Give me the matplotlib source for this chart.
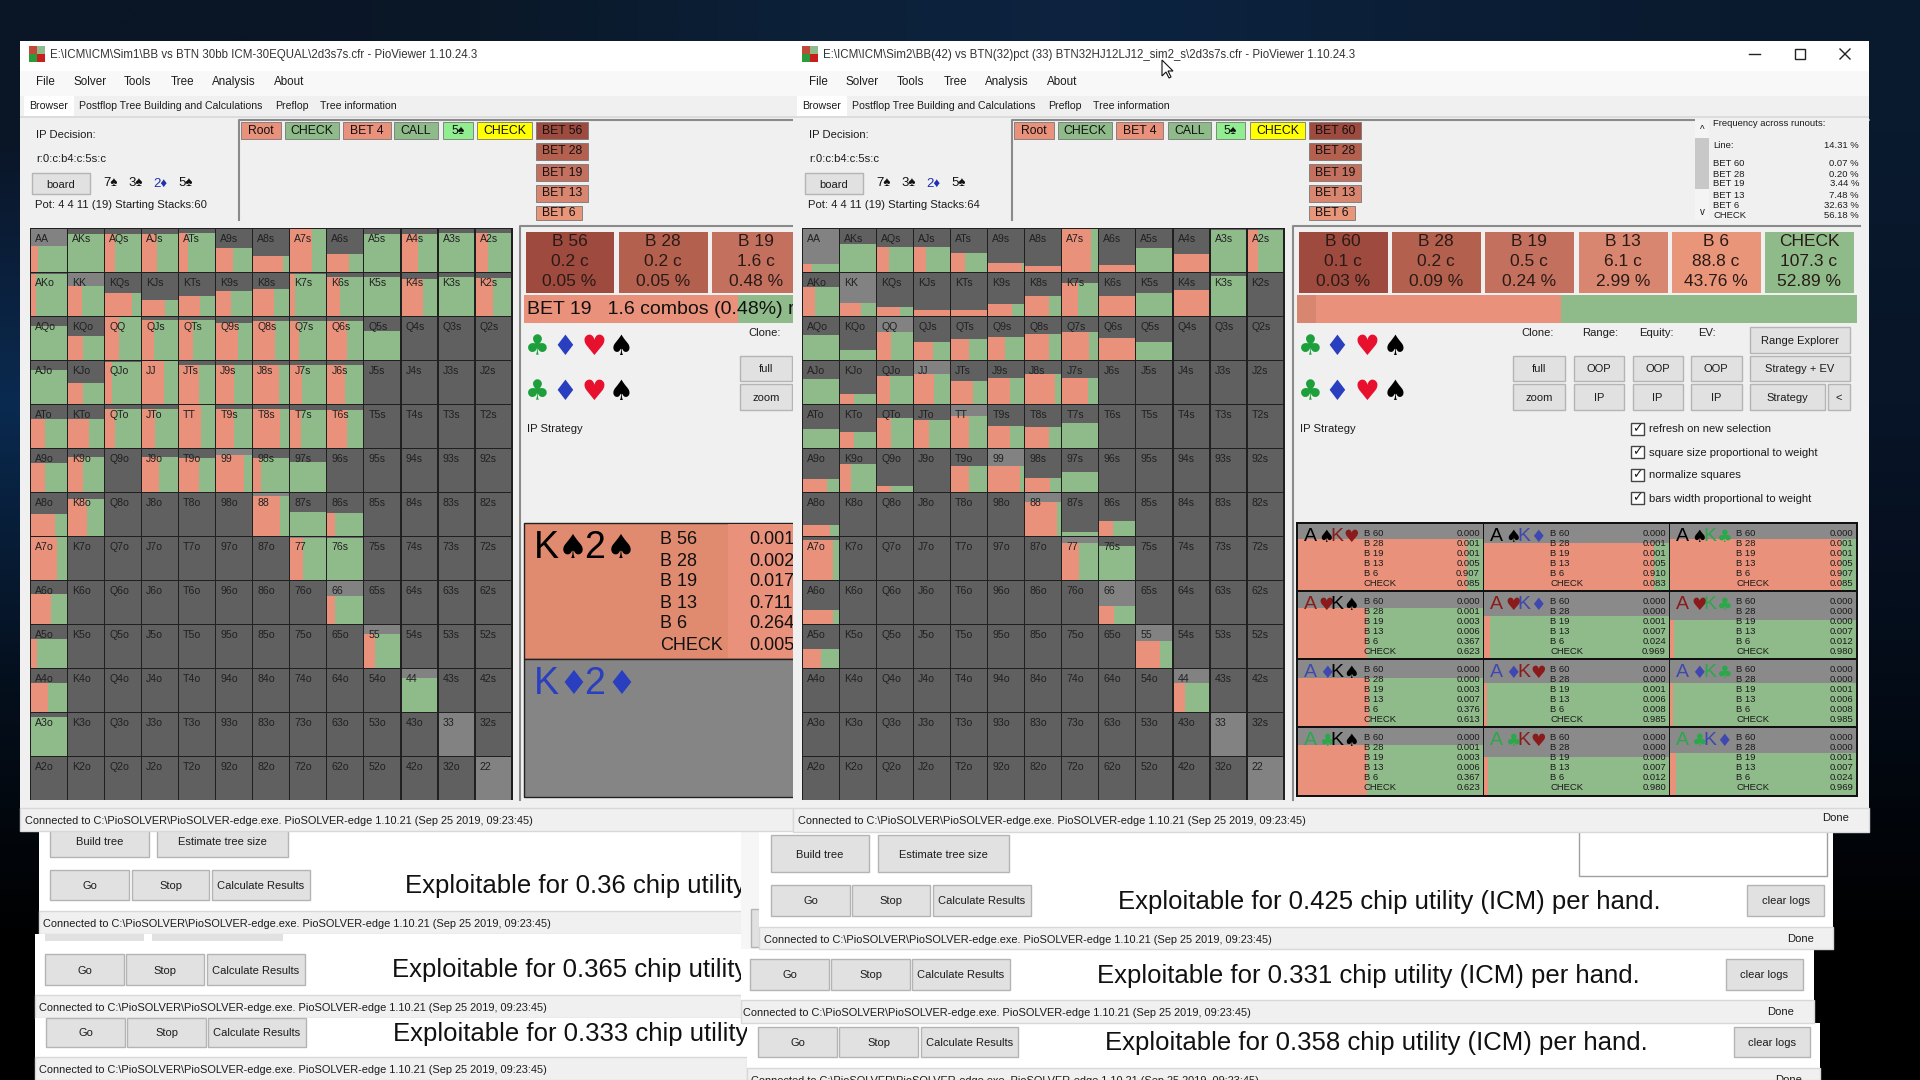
import itertools
import matplotlib
matplotlib.use('Agg')
import matplotlib.pyplot as plt
from matplotlib.patches import Rectangle, Polygon
from matplotlib.colors import to_rgb
import numpy as np

plt.rcParams['font.family'] = ['Liberation Sans', 'DejaVu Sans']

ORANGE = '#e9917a'
GREEN = '#8fbb8a'
DARK = '#606060'
LIGHT = '#828282'
PANEL = '#f0f0f0'
BTN = '#e1e1e1'
INK = '#1c1c1c'

ranks = list('AKQJT98765432')

# share of each hand square that stays grey (top part), 1 = not in range
left_empty = [
    [.39, .11, .11, .12, .10, .44, .64, .00, .59, .11, .11, .10, .10],
    [.03, .31, .48, .64, .54, .42, .37, .02, .10, .10, .15, .10, .12],
    [.20, .45, .00, .06, .08, .15, .10, .10, .10, .33, 1, 1, 1],
    [.20, .52, .03, .00, .10, .10, .10, .10, .10, 1, 1, 1, 1],
    [.34, .34, .10, .10, .00, .10, .10, .12, .12, 1, 1, 1, 1],
    [.34, .19, 1, .19, .20, .14, .20, .30, 1, 1, 1, 1, 1],
    [.49, .15, 1, 1, 1, 1, .06, .45, .48, 1, 1, 1, 1],
    [.00, 1, 1, 1, 1, 1, 1, .03, .03, 1, 1, 1, 1],
    [.31, 1, 1, 1, 1, 1, 1, 1, .36, 1, 1, 1, 1],
    [.32, 1, 1, 1, 1, 1, 1, 1, 1, .22, 1, 1, 1],
    [.32, 1, 1, 1, 1, 1, 1, 1, 1, 1, .20, 1, 1],
    [.10, 1, 1, 1, 1, 1, 1, 1, 1, 1, 1, 1, 1],
    [1, 1, 1, 1, 1, 1, 1, 1, 1, 1, 1, 1, 1],
]
# share of the coloured part that is a bet (orange), the rest is check (green)
left_bet = [
    [.20, .00, .28, .43, .25, .46, .83, .60, .60, .00, .45, .00, .35],
    [.15, .40, .75, .65, .58, .40, .58, .12, .35, .00, .60, .00, .50],
    [.00, .43, .38, .33, .40, .60, .62, .25, .55, .00, 0, 0, 0],
    [.00, .43, .20, .60, .55, .50, .73, .32, .48, 0, 0, 0, 0],
    [.40, .60, .27, .35, .60, .50, .75, .30, .55, 0, 0, 0, 0],
    [.38, .41, 0, .48, .55, .78, .23, .00, 0, 0, 0, 0, 0],
    [.67, .53, 0, 0, 0, 0, .76, .00, .20, 0, 0, 0, 0],
    [.74, 0, 0, 0, 0, 0, 0, .36, .00, 0, 0, 0, 0],
    [.55, 0, 0, 0, 0, 0, 0, 0, .20, 0, 0, 0, 0],
    [.18, 0, 0, 0, 0, 0, 0, 0, 0, .29, 0, 0, 0],
    [.48, 0, 0, 0, 0, 0, 0, 0, 0, 0, .00, 0, 0],
    [.00, 0, 0, 0, 0, 0, 0, 0, 0, 0, 0, 0, 0],
    [0, 0, 0, 0, 0, 0, 0, 0, 0, 0, 0, 0, 0],
]
right_empty = [
    [.82, .36, .42, .42, .57, .80, .88, .00, .84, .45, .59, .02, .02],
    [.33, .70, .80, .86, .86, .73, .55, .23, .55, .46, .41, .06, 1],
    [.43, .77, .36, .58, .52, .46, .41, .35, .50, .58, 1, 1, 1],
    [.43, .77, .36, .30, .47, .41, .30, .39, 1, 1, 1, 1, 1],
    [.57, .63, .30, .36, .25, .49, .51, .42, 1, 1, 1, 1, 1],
    [.70, .36, .87, 1, .40, .40, .67, .55, 1, 1, 1, 1, 1],
    [.74, 1, 1, 1, 1, 1, .20, .92, .65, 1, 1, 1, 1],
    [.06, 1, 1, 1, 1, 1, 1, .15, .22, 1, 1, 1, 1],
    [.67, 1, 1, 1, 1, 1, 1, 1, .58, 1, 1, 1, 1],
    [.56, 1, 1, 1, 1, 1, 1, 1, 1, .38, 1, 1, 1],
    [1, 1, 1, 1, 1, 1, 1, 1, 1, 1, .33, 1, 1],
    [1, 1, 1, 1, 1, 1, 1, 1, 1, 1, 1, 1, 1],
    [1, 1, 1, 1, 1, 1, 1, 1, 1, 1, 1, 1, 1],
]
right_bet = [
    [.26, .00, .33, .33, .39, .95, 1.0, .80, 1.0, .00, 1.0, .00, .29],
    [.34, .60, .64, 1.0, 1.0, .67, .67, .45, 1.0, .00, 1.0, .00, 0],
    [.00, .00, .38, .52, .50, .46, .67, .74, 1.0, .00, 0, 0, 0],
    [.00, .39, .35, .55, .62, .62, .82, .71, 0, 0, 0, 0, 0],
    [.00, .39, .38, .41, .50, .60, .67, .00, 0, 0, 0, 0, 0],
    [.67, .32, .40, 0, .50, .89, .70, .00, 0, 0, 0, 0, 0],
    [.77, 0, 0, 0, 0, 0, .88, .00, .38, 0, 0, 0, 0],
    [.85, 0, 0, 0, 0, 0, 0, .47, .00, 0, 0, 0, 0],
    [.85, 0, 0, 0, 0, 0, 0, 0, .42, 0, 0, 0, 0],
    [.50, 0, 0, 0, 0, 0, 0, 0, 0, .66, 0, 0, 0],
    [0, 0, 0, 0, 0, 0, 0, 0, 0, 0, .32, 0, 0],
    [0, 0, 0, 0, 0, 0, 0, 0, 0, 0, 0, 0, 0],
    [0, 0, 0, 0, 0, 0, 0, 0, 0, 0, 0, 0, 0],
]

# selected hand table of the right window
combo_hands = [('As', 'Kh'), ('As', 'Kd'), ('As', 'Kc'),
               ('Ah', 'Ks'), ('Ah', 'Kd'), ('Ah', 'Kc'),
               ('Ad', 'Ks'), ('Ad', 'Kh'), ('Ad', 'Kc'),
               ('Ac', 'Ks'), ('Ac', 'Kh'), ('Ac', 'Kd')]
combo_empty = [.23, .29, .23, .25, .36, .43, .27, .35, .35, .26, .43, .37]
combo_freqs = [
    [.000, .001, .001, .005, .907, .085],
    [.000, .001, .001, .005, .910, .083],
    [.000, .001, .001, .005, .907, .085],
    [.000, .001, .003, .006, .367, .623],
    [.000, .000, .001, .007, .024, .969],
    [.000, .000, .000, .007, .012, .980],
    [.000, .000, .003, .007, .376, .613],
    [.000, .000, .001, .006, .008, .985],
    [.000, .000, .001, .006, .008, .985],
    [.000, .001, .003, .006, .367, .623],
    [.000, .000, .000, .007, .012, .980],
    [.000, .000, .001, .007, .024, .969],
]
combo_actions = ['B 60', 'B 28', 'B 19', 'B 13', 'B 6', 'CHECK']

left_actions = ['B 56', 'B 28', 'B 19', 'B 13', 'B 6', 'CHECK']
left_box_combos = [0.2, 0.2, 1.6]
left_box_pcts = [0.05, 0.05, 0.48]
left_k2s = [.001, .002, .017, .711, .264, .005]

right_boxes = ['B 60', 'B 28', 'B 19', 'B 13', 'B 6', 'CHECK']
right_box_combos = [0.1, 0.2, 0.5, 6.1, 88.8, 107.3]
right_box_pcts = [0.03, 0.09, 0.24, 2.99, 43.76, 52.89]
box_colors = ['#9e4a3f', '#b4604f', '#c4705f', '#d88670', '#e8957a', '#8fbb8a']

runout_names = ['BET 60', 'BET 28', 'BET 19', 'BET 13', 'BET 6', 'CHECK']
runout_freqs = [0.07, 0.20, 3.44, 7.48, 32.63, 56.18]

fig = plt.figure(figsize=(19.2, 10.8), dpi=100)
ax = fig.add_axes([0, 0, 1, 1])

# wallpaper behind the windows
wall = np.array([[to_rgb(c) for c in row] for row in [
    ['#0a1526', '#0a1828', '#0c2038', '#0c2340', '#0b1e36', '#0a1a2e'],
    ['#0a2a50', '#0a1a30', '#0c2038', '#0c2340', '#0a1c34', '#081428'],
    ['#05101e', '#05101e', '#05101e', '#05101e', '#040c18', '#040c18'],
    ['#000000', '#000000', '#000000', '#000000', '#000000', '#000000'],
]])
ax.imshow(wall, extent=(0, 1920, 1080, 0), aspect='auto', interpolation='bilinear', zorder=0)
ax.set_xlim(0, 1920)
ax.set_ylim(1080, 0)
ax.axis('off')

layer = itertools.count(1)


def box(x0, y0, x1, y1, color, edge='none', lw=1.0):
    ax.add_patch(Rectangle((x0, y0), x1 - x0, y1 - y0, facecolor=color, edgecolor=edge,
                           linewidth=lw, zorder=next(layer)))


def label(x, y, s, size=8.1, color=INK, ha='left', **kw):
    ax.text(x, y + 1, s, fontsize=size, color=color, ha=ha, va='center', zorder=next(layer), **kw)


def button(x0, y0, x1, y1, s, size=8.0):
    box(x0, y0, x1, y1, BTN, edge='#b4b4b4')
    label((x0 + x1) / 2, (y0 + y1) / 2, s, size=size, ha='center')


def lower_window(x0, x1, top, bottom, go, btn_y, text_x, text, status_y, status_x, clear=None, done=None):
    box(x0, top, x1, bottom, '#ffffff')
    button(go[0], btn_y[0], go[1], btn_y[1], 'Go')
    button(go[2], btn_y[0], go[3], btn_y[1], 'Stop')
    button(go[4], btn_y[0], go[5], btn_y[1], 'Calculate Results')
    label(text_x, (btn_y[0] + btn_y[1]) / 2, text, size=18.5, color='#111111')
    if clear:
        button(clear[0], btn_y[0], clear[1], btn_y[1], 'clear logs')
    box(x0, status_y, x1, bottom, PANEL, edge='#d8d8d8')
    label(status_x, status_y + 12, STATUS, size=7.95)
    if done:
        label(done, status_y + 11, 'Done')


STATUS = 'Connected to C:\\PioSOLVER\\PioSOLVER-edge.exe. PioSOLVER-edge 1.10.21 (Sep 25 2019, 09:23:45)'


def hand_grid(x0, y0, empty, bet, cw=37.05, ch=44.0):
    box(x0 - 1, y0 - 1.5, x0 + 13 * cw, y0 + 13 * ch - 1, '#202020')
    for i, r1 in enumerate(ranks):
        for j, r2 in enumerate(ranks):
            x = x0 + j * cw
            y = y0 + i * ch
            e = empty[i][j]
            w = cw - 1.4
            h = ch - 1.4
            box(x, y, x + w, y + h, LIGHT if i == j else DARK)
            if e < 1:
                box(x, y + e * h, x + w, y + h, GREEN)
                if bet[i][j] > 0:
                    box(x, y + e * h, x + bet[i][j] * w, y + h, ORANGE)
            if i == j:
                name = r1 + r2
            elif j > i:
                name = r1 + r2 + 's'
            else:
                name = r2 + r1 + 'o'
            label(x + 4, y + 8.5, name, size=7.6, color='#202020')


def suit_rows(xs, ys=(346, 391)):
    suits = [('♣', '#1da03c'), ('♦', '#2a3fc0'), ('♥', '#e8112d'), ('♠', '#000000')]
    for y in ys:
        for x, (s, c) in zip(xs, suits):
            label(x, y, s, size=20, color=c, ha='center', family=['DejaVu Sans'])


def top_part(x0, x1, title, title_x, tree, name_6, pot):
    box(x0, 41, x1, 831, PANEL)
    box(x0, 41, x1, 71, '#ffffff')
    box(x0, 71, x1, 96, '#f8f8f8')
    # icon
    ix = x0 + 9
    box(ix, 46, ix + 8, 54, '#c04a3a')
    box(ix + 8, 46, ix + 16, 54, '#8fbb8a')
    box(ix, 54, ix + 8, 62, '#2a9a3a')
    box(ix + 8, 54, ix + 16, 62, '#c81e1e')
    label(title_x, 54, title, color='#333333', size=8.3)
    for dx, s in zip((16, 53, 104, 151, 192, 254), ('File', 'Solver', 'Tools', 'Tree', 'Analysis', 'About')):
        label(x0 + dx, 81, s, size=8.4)
    box(x0 + 4, 96, x0 + 54, 116, '#ffffff')
    box(x0, 116, x1, 118, '#dcdcdc')
    for dx, s in zip((9, 59, 255, 300), ('Browser', 'Postflop Tree Building and Calculations', 'Preflop', 'Tree information')):
        label(x0 + dx, 105, s, size=7.6)
    label(x0 + 16, 134.5, 'IP Decision:')
    label(x0 + 16, 157.5, 'r:0:c:b4:c:5s:c')
    button(x0 + 12, 173, x0 + 70, 194, 'board')
    for dx, s, c in zip((83, 108, 133, 158), ('7♠', '3♠', '2♦', '5♠'), ('#111111', '#111111', '#2030b0', '#111111')):
        label(x0 + dx, 182.5, s, size=9.5, color=c)
    label(x0 + 15, 204.5, pot)
    # tree buttons
    bx = x0 + 221
    box(bx - 2, 120, x1, 220, PANEL)
    ax.plot([bx - 2, bx - 2, x1], [220, 120, 120], color='#8a8a8a', lw=1.5, zorder=next(layer))
    tree_colors = [ORANGE, GREEN, ORANGE, GREEN, '#90ee90', '#ffff00', '#9e4a3f']
    for (a, b, s), c in zip(tree, tree_colors):
        box(x0 + a, 122, x0 + b, 139, c, edge='#777777', lw=.6)
        label(x0 + (a + b) / 2, 129.5, s, ha='center', size=8.8, color='#111111')
    a, b = tree[-1][:2]
    for y, s, c in zip((143, 164, 185), ('BET 28', 'BET 19', 'BET 13'), box_colors[1:4]):
        box(x0 + a, y, x0 + b, y + 17, c, edge='#777777', lw=.6)
        label(x0 + (a + b) / 2, y + 7.5, s, ha='center', size=8.8, color='#111111')
    box(x0 + a, 206, x0 + name_6, 220, box_colors[4], edge='#777777', lw=.6)
    label(x0 + (a + name_6) / 2, 212.5, 'BET 6', ha='center', size=8.8, color='#111111')


# lower windows, left group
lower_window(39, 745, 825, 934, (50, 129, 132, 209, 212, 310), (870, 900), 405,
             'Exploitable for 0.36 chip utility', 911, 43)
button(50, 825, 149, 857, 'Build tree')
button(157, 825, 288, 857, 'Estimate tree size')
lower_window(35, 745, 934, 1018, (45, 124, 126, 204, 207, 305), (954, 985), 392,
             'Exploitable for 0.365 chip utility', 995, 39)
box(45, 934, 144, 941, BTN)
box(152, 934, 283, 941, BTN)
lower_window(35, 747, 1018, 1080, (46, 125, 127, 206, 208, 306), (1018, 1047), 393,
             'Exploitable for 0.333 chip utility', 1057, 39)
# lower windows, right group
box(741, 825, 1825, 949, '#f6f6f6')
box(751, 909, 762, 947, BTN, edge='#b4b4b4')
lower_window(747, 1820, 1023, 1080, (758, 837, 839, 918, 921, 1018), (1027, 1057), 1105,
             'Exploitable for 0.358 chip utility (ICM) per hand.', 1068, 751, (1734, 1810), 1775)
lower_window(741, 1814, 949, 1023, (750, 829, 831, 910, 912, 1010), (959, 990), 1097,
             'Exploitable for 0.331 chip utility (ICM) per hand.', 1000, 743, (1726, 1803), 1767)
lower_window(759, 1833, 825, 949, (771, 850, 852, 930, 933, 1031), (885, 916), 1118,
             'Exploitable for 0.425 chip utility (ICM) per hand.', 927, 764, (1747, 1824), 1787)
button(771, 835, 869, 872, 'Build tree')
button(878, 835, 1009, 872, 'Estimate tree size')
box(1579, 825, 1827, 876, '#ffffff', edge='#a0a0a0')

# left main window
top_part(20, 793, 'E:\\ICM\\ICM\\Sim1\\BB vs BTN 30bb ICM-30EQUAL\\2d3s7s.cfr - PioViewer 1.10.24.3', 50,
         [(221, 261, 'Root'), (265, 319, 'CHECK'), (323, 371, 'BET 4'), (374, 418, 'CALL'),
          (423, 453, '5♠'), (457, 512, 'CHECK'), (516, 568, 'BET 56')], 562,
         'Pot: 4 4 11 (19) Starting Stacks:60')
hand_grid(31, 229, left_empty, left_bet)
ax.plot([520, 520, 793], [800, 226, 226], color='#8a8a8a', lw=1.5, zorder=next(layer))
for x0, s, c, n, color in zip((525.5, 619, 712), left_actions, left_box_combos, left_box_pcts, box_colors):
    box(x0, 232, x0 + 88.5, 293, color)
    label(x0 + 44, 241, s, size=12.5, ha='center', color='#2a1a16')
    label(x0 + 44, 261, '%.1f c' % c, size=12.5, ha='center', color='#2a1a16')
    label(x0 + 44, 281, '%.2f %%' % n, size=12.5, ha='center', color='#2a1a16')
box(524, 295, 738, 323, ORANGE)
box(738, 295, 795, 323, GREEN)
label(527, 309, 'BET 19   1.6 combos (0.48%) r', size=14, color='#111111')
suit_rows((537, 565, 594, 621))
label(748, 332.5, 'Clone:')
button(740, 356, 792, 381, 'full')
button(740, 384, 792, 410, 'zoom')
label(527, 427.5, 'IP Strategy')
box(524, 523, 795, 659, '#e08b70', edge='#222222')
box(728, 524, 795, 658, ORANGE)
box(524, 659, 795, 797, '#858585', edge='#222222')
for y, c, s in ((547, '#000000', '♠'), (683, '#2a3fc0', '♦')):
    label(534, y, 'K', size=27, color=c)
    label(584, y, '2', size=27, color=c)
    label(573, y + 1, s, size=24, color=c, ha='center', family=['DejaVu Sans'])
    label(621, y + 1, s, size=24, color=c, ha='center', family=['DejaVu Sans'])
for y, name, v in zip((538, 560, 580, 602, 623, 644), left_actions, left_k2s):
    label(660, y, name, size=13, color='#111111')
    label(749, y, '%.3f' % v, size=13, color='#111111')
box(20, 808, 793, 831, PANEL, edge='#d8d8d8')
label(25, 820, STATUS, size=7.95)

# right main window
top_part(793, 1869, 'E:\\ICM\\ICM\\Sim2\\BB(42) vs BTN(32)pct (33) BTN32HJ12LJ12_sim2_s\\2d3s7s.cfr - PioViewer 1.10.24.3', 823,
         [(221, 261, 'Root'), (265, 319, 'CHECK'), (323, 370, 'BET 4'), (375, 418, 'CALL'),
          (423, 452, '5♠'), (457, 512, 'CHECK'), (516, 568, 'BET 60')], 562,
         'Pot: 4 4 11 (19) Starting Stacks:64')
# runout frequency panel
box(1695, 118, 1869, 222, PANEL)
box(1695, 120, 1709, 220, '#f4f4f4')
box(1695, 138, 1709, 189, '#c8c8c8')
label(1702, 129, '^', size=7, ha='center')
label(1702, 211, 'v', size=7, ha='center')
label(1713, 123, 'Frequency across runouts:', size=6.8)
label(1713, 144, 'Line:', size=6.8)
label(1859, 144, '14.31 %', size=6.8, ha='right')
for y, name, v in zip((163, 173.5, 183, 194.5, 204, 214), runout_names, runout_freqs):
    label(1713, y, name, size=6.8)
    label(1859, y, '%.2f %%' % v, size=6.8, ha='right')
# window controls
ax.plot([1749, 1760], [54, 54], color='#222222', lw=1, zorder=next(layer))
ax.add_patch(Rectangle((1795, 49), 10, 10, fill=False, edgecolor='#222222', lw=1, zorder=next(layer)))
ax.plot([1840, 1850], [49, 59], color='#222222', lw=1, zorder=next(layer))
ax.plot([1840, 1850], [59, 49], color='#222222', lw=1, zorder=next(layer))

hand_grid(803, 229, right_empty, right_bet)
ax.plot([1293, 1293, 1860], [800, 226, 226], color='#8a8a8a', lw=1.5, zorder=next(layer))
for x0, s, c, n, color in zip((1299, 1392, 1485, 1579, 1672, 1765), right_boxes, right_box_combos, right_box_pcts, box_colors):
    box(x0, 232, x0 + 88.5, 293, color)
    label(x0 + 44, 241, s, size=12.5, ha='center', color='#2a1a16')
    label(x0 + 44, 261, '%.1f c' % c, size=12.5, ha='center', color='#2a1a16')
    label(x0 + 44, 281, '%.2f %%' % n, size=12.5, ha='center', color='#2a1a16')
box(1297, 295, 1316, 323, '#d88670')
box(1316, 295, 1560.5, 323, ORANGE)
box(1560.5, 295, 1857, 323, GREEN)
suit_rows((1310, 1337, 1367, 1395))
for x, s in zip((1521, 1582, 1639, 1698), ('Clone:', 'Range:', 'Equity:', 'EV:')):
    label(x, 332.5, s)
button(1750, 327, 1850, 353, 'Range Explorer')
button(1513, 356, 1565, 381, 'full')
button(1513, 384, 1565, 410, 'zoom')
for x0, x1 in ((1573.5, 1624), (1632.5, 1682.6), (1691, 1741.5)):
    button(x0, 356, x1, 381, 'OOP')
    button(x0, 384, x1, 410, 'IP')
button(1750, 356, 1850, 381, 'Strategy + EV')
button(1750, 384, 1825, 410, 'Strategy')
button(1828, 384, 1850, 410, '<')
label(1300, 427.5, 'IP Strategy')
for y, s in zip((429, 452, 475, 498), ('refresh on new selection', 'square size proportional to weight',
                                       'normalize squares', 'bars width proportional to weight')):
    box(1631, y - 6, 1643.5, y + 6, '#ffffff', edge='#444444')
    label(1637.2, y - 1, '✓', size=9, ha='center', family=['DejaVu Sans'])
    label(1649, y - .5, s)

# table of the selected hand
suit_glyph = {'s': '♠', 'h': '♥', 'd': '♦', 'c': '♣'}
suit_color = {'s': '#000000', 'h': '#8b1a1a', 'd': '#3f48b0', 'c': '#2aa84a'}
col_x = [1297, 1483.6, 1669.6, 1857]
row_y = [523, 591, 659, 727, 796]
box(1296, 522, 1858, 797, '#111111')
for n, (hand, e, freqs) in enumerate(zip(combo_hands, combo_empty, combo_freqs)):
    r, c = divmod(n, 3)
    x0, x1 = col_x[c] + .6, col_x[c + 1] - .6
    y0, y1 = row_y[r] + .6, row_y[r + 1] - .6
    box(x0, y0, x1, y1, '#8a8a8a')
    ym = y0 + e * (y1 - y0)
    box(x0, ym, x1, y1, GREEN)
    box(x0, ym, x0 + (1 - freqs[-1]) * (x1 - x0), y1, ORANGE)
    for dx, t, key in zip((6, 21, 33, 46), (hand[0][0], suit_glyph[hand[0][1]], hand[1][0], suit_glyph[hand[1][1]]),
                          (hand[0][1],) * 2 + (hand[1][1],) * 2):
        if t in suit_glyph.values():
            label(x0 + dx, y0 + 12, t, size=12.5, color=suit_color[key], family=['DejaVu Sans'])
        else:
            label(x0 + dx, y0 + 12, t, size=14, color=suit_color[key])
    for k, (name, v) in enumerate(zip(combo_actions, freqs)):
        label(x0 + 66, y0 + 8.5 + 10 * k, name, size=6.8, color='#1a1a1a')
        label(x1 - 3, y0 + 8.5 + 10 * k, '%.3f' % v, size=6.8, color='#1a1a1a', ha='right')

box(793, 808, 1869, 832, PANEL, edge='#d8d8d8')
label(798, 820, STATUS, size=7.95)
label(1822, 817, 'Done')

# mouse pointer
ax.add_patch(Polygon([(1162, 60), (1162, 76), (1166, 72), (1169, 78), (1171, 77), (1168, 71), (1173, 71)],
                     facecolor='#ffffff', edgecolor='#111111', lw=.8, zorder=next(layer)))

fig.savefig('out.png', dpi=100)
